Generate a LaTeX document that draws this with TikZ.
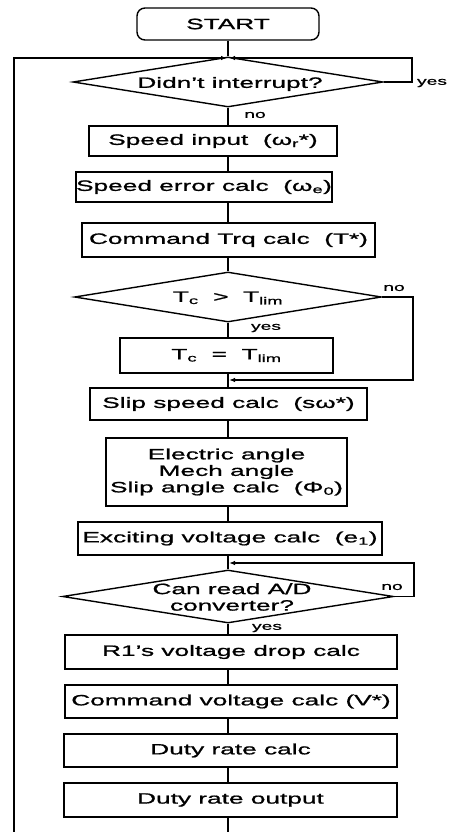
\documentclass[tikz,border=0pt]{standalone}
\usepackage{fontspec}
\setmainfont{Liberation Sans}[FakeStretch=1.75,FakeBold=1]
\usetikzlibrary{shapes.geometric,arrows.meta}
\begin{document}
\begin{tikzpicture}[x=1pt,y=-1pt,
  txt/.style={font=\fontsize{15}{16.5}\selectfont,inner sep=0pt,align=center},
  lbl/.style={font=\fontsize{11}{12}\selectfont,inner sep=0pt},
  box/.style={draw,line width=1.4pt,inner sep=0pt,font=\fontsize{15}{16.5}\selectfont,align=center},
  dia/.style={draw,diamond,line width=1.4pt,inner sep=0pt},
  ln/.style={line width=1.4pt},
  arr/.style={line width=1.2pt,-{Latex[length=6pt,width=4.5pt]},shorten >=1pt}
]
\useasboundingbox (0,0) rectangle (453,832);
\coordinate (sp) at (228,0);
\coordinate (lbot) at (14,832);
\coordinate (cbot) at (228,832);

\node[box,rounded corners=8pt,minimum width=182pt,minimum height=32pt] (start) at (228,24) {START};
\node[dia,minimum width=310pt,minimum height=50pt] (d1) at (228,82) {};
\node[txt] (t1) at (230,84) {Didn't interrupt?};
\node[box,minimum width=248pt,minimum height=30pt] (b1) at (213,141) {Speed input\ \ (ω\textsubscript{r}*)};
\node[box,minimum width=232pt,minimum height=30pt] (b2) at (204,187) {Speed error calc\ \ (ω\textsubscript{e})};
\node[box,minimum width=293pt,minimum height=34pt] (b3) at (228.5,240) {Command Trq calc\ \ (T*)};
\node[dia,minimum width=307pt,minimum height=50pt] (d2) at (228,297) {};
\node[txt] (t2) at (228,298) {T\textsubscript{c}\ \ >\ \ T\textsubscript{lim}};
\node[box,minimum width=213pt,minimum height=35pt] (b4) at (226.5,355.5) {T\textsubscript{c}\ \ =\ \ T\textsubscript{lim}};
\node[box,minimum width=277pt,minimum height=32pt] (b5) at (228.5,404) {Slip speed calc\ \ (sω*)};
\node[box,minimum width=241pt,minimum height=68pt] (b6) at (226.5,472) {Electric angle\\Mech angle\\Slip angle calc\ \ (Φ\textsubscript{0})};
\node[box,minimum width=304pt,minimum height=33pt] (b7) at (230,538.5) {Exciting voltage calc\ \ (e\textsubscript{1})};
\node[dia,minimum width=331pt,minimum height=53pt] (d3) at (228,596.5) {};
\node[txt] (t3) at (232,597) {Can read A/D\\converter?};
\node[box,minimum width=332pt,minimum height=34pt] (b8) at (231,652) {R1's voltage drop calc};
\node[box,minimum width=332pt,minimum height=33pt] (b9) at (231,701.5) {Command voltage calc (V*)};
\node[box,minimum width=333pt,minimum height=33pt] (b10) at (230.5,750.5) {Duty rate calc};
\node[box,minimum width=333pt,minimum height=34pt] (b11) at (230.5,800) {Duty rate output};

% labels
\node[lbl] (y1) at (432,83) {yes};
\node[lbl] (n1) at (255,115) {no};
\node[lbl] (n2) at (394,288) {no};
\node[lbl] (y2) at (266,328) {yes};
\node[lbl] (n3) at (392,587) {no};
\node[lbl] (y3) at (267,628) {yes};

% spine
\draw[ln] (start.south) -- (d1.north);
\draw[ln] (d1.south) -- (d1.south |- b1.north);
\draw[ln] (b1.south -| sp) -- (b2.north -| sp);
\draw[ln] (b2.south -| sp) -- (b3.north -| sp);
\draw[ln] (b3.south -| sp) -- (d2.north);
\draw[ln] (d2.south) -- (d2.south |- b4.north);
\draw[ln] (b4.south -| sp) -- (b5.north -| sp);
\draw[ln] (b5.south -| sp) -- (b6.north -| sp);
\draw[ln] (b6.south -| sp) -- (b7.north -| sp);
\draw[ln] (b7.south -| sp) -- (d3.north);
\draw[ln] (d3.south) -- (d3.south |- b8.north);
\draw[ln] (b8.south -| sp) -- (b9.north -| sp);
\draw[ln] (b9.south -| sp) -- (b10.north -| sp);
\draw[ln] (b10.south -| sp) -- (b11.north -| sp);
\draw[ln] (b11.south -| sp) -- (cbot);

% loops
\coordinate (m1) at (228,58);
\coordinate (m2) at (228,380);
\coordinate (m3) at (228,563);
\draw[arr] (lbot) |- (m1);
\draw[arr] (d1.east) -- (412,82) |- (m1);
\draw[arr] (d2.east) -- (413,297) |- (m2);
\draw[arr] (d3.east) -- (414,596.5) |- (m3);
\end{tikzpicture}
\end{document}
